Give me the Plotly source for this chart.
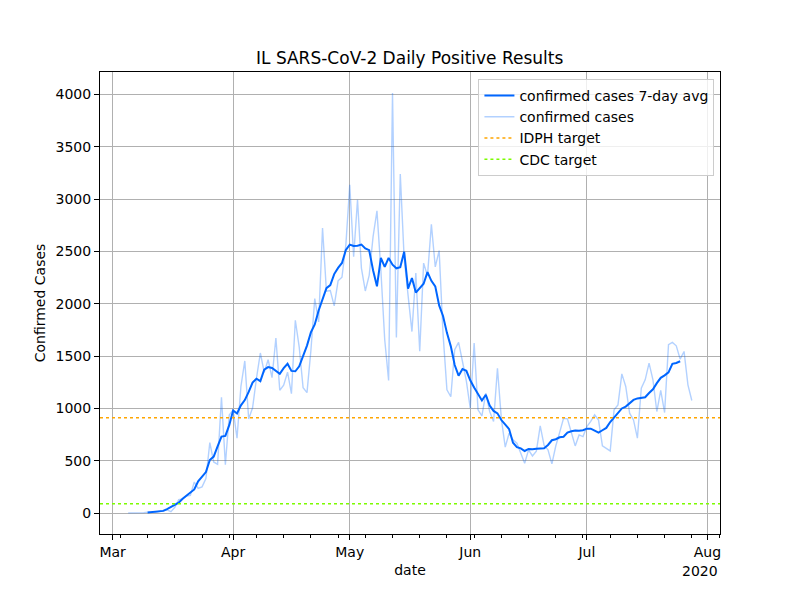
"""IL SARS-CoV-2 daily positive results with a centred 7-day average."""

import pandas as pd
import plotly.graph_objects as go

FIRST_DAY = "2020-03-05"
AVG_FIRST_DAY = "2020-03-10"

# daily confirmed cases, one list per month (March starts on the 5th)
MARCH_CASES = [1, 0, 1, 1, 4, 8, 6, 7, 14, 18, 29, 12, 55, 128, 134, 163, 168,
               296, 236, 250, 330, 673, 488, 465, 1105, 461, 937]
APRIL_CASES = [986, 715, 1209, 1453, 899, 1006, 1287, 1529, 1344, 1465,
               1293, 1672, 1173, 1222, 1346, 1140, 1842, 1585, 1197, 1151,
               1551, 2049, 1826, 2724, 2119, 2126, 1980, 2219, 2253, 2563]
MAY_CASES = [3137, 2450, 2994, 2341, 2122, 2270, 2641, 2887, 2325, 1656,
             1266, 4014, 1677, 3239, 2432, 2088, 1734, 2294, 1545, 2388,
             2268, 2758, 2352, 2508, 1713, 1178, 1111, 1560, 1630, 1448,
             1260]
JUNE_CASES = [1002, 1624, 986, 928, 1145, 970, 874, 1384, 900, 630,
              762, 699, 667, 570, 475, 603, 545, 590, 833, 645,
              603, 469, 640, 770, 906, 900, 778, 641, 746, 730]
JULY_CASES = [825, 875, 938, 888, 641, 615, 593, 986, 1033, 1330,
              1209, 954, 890, 715, 1193, 1273, 1432, 1273, 970, 1171,
              960, 1608, 1630, 1598, 1471, 1544, 1225, 1075]

IDPH_TARGET = 910
CDC_TARGET = 89

MONTH_TICKS = ["2020-03-01", "2020-04-01", "2020-05-01", "2020-06-01",
               "2020-07-01", "2020-08-01"]
MONTH_LABELS = ["Mar", "Apr", "May", "Jun", "Jul", "Aug"]
YEAR_LABEL = "2020"

BLUE = "#0066ff"
FONT = "DejaVu Sans"

daily = MARCH_CASES + APRIL_CASES + MAY_CASES + JUNE_CASES + JULY_CASES
cases = pd.Series(daily, index=pd.date_range(FIRST_DAY, periods=len(daily), freq="D"))
avg = cases.rolling(7, center=True).mean()
avg = avg[avg.index >= AVG_FIRST_DAY].dropna()

# matplotlib-like 5% autoscale margins
span = cases.index[-1] - cases.index[0]
x_lo = cases.index[0] - span * 0.05
x_hi = cases.index[-1] + span * 0.05
y_span = cases.max() - cases.min()
y_lo = cases.min() - y_span * 0.05
y_hi = cases.max() + y_span * 0.05

fig = go.Figure()
fig.add_trace(go.Scatter(x=avg.index, y=avg.values, mode="lines",
                         name="confirmed cases 7-day avg",
                         line=dict(color=BLUE, width=2)))
fig.add_trace(go.Scatter(x=cases.index, y=cases.values, mode="lines",
                         name="confirmed cases",
                         line=dict(color="rgba(0,102,255,0.3)", width=1.4)))
fig.add_trace(go.Scatter(x=[x_lo, x_hi], y=[IDPH_TARGET, IDPH_TARGET], mode="lines",
                         name="IDPH target",
                         line=dict(color="#ffa500", width=1.5, dash="dot")))
fig.add_trace(go.Scatter(x=[x_lo, x_hi], y=[CDC_TARGET, CDC_TARGET], mode="lines",
                         name="CDC target",
                         line=dict(color="#7cfc00", width=1.5, dash="dot")))

axis_style = dict(showline=True, linecolor="black", linewidth=1, mirror=True,
                  ticks="outside", ticklen=5, tickcolor="black",
                  showgrid=True, gridcolor="#b0b0b0", gridwidth=1,
                  zeroline=False, tickfont=dict(size=14, color="black"))

fig.update_xaxes(**axis_style, type="date", range=[x_lo, x_hi],
                 tickvals=MONTH_TICKS, ticktext=MONTH_LABELS,
                 minor=dict(tick0="2020-03-03", dtick=7 * 86400000,
                            ticks="outside", ticklen=3, tickcolor="black",
                            showgrid=False),
                 title=dict(text="date", font=dict(size=14), standoff=6))
fig.update_yaxes(**axis_style, range=[y_lo, y_hi], tickvals=list(range(0, 4001, 500)),
                 title=dict(text="Confirmed Cases", font=dict(size=14), standoff=6))

fig.add_annotation(text="IL SARS-CoV-2 Daily Positive Results", xref="paper", yref="paper",
                   x=0.5, y=1, yanchor="bottom", yshift=2, showarrow=False,
                   font=dict(size=17, color="black"))
fig.add_annotation(text=YEAR_LABEL, xref="paper", yref="paper", x=1, y=0,
                   xanchor="right", yanchor="top", yshift=-27, showarrow=False,
                   font=dict(size=14, color="black"))

# the page puts the figure 8px in from the top-left corner
fig.update_layout(
    width=800, height=600,
    margin=dict(l=92, r=88, t=64, b=74),
    paper_bgcolor="white", plot_bgcolor="white",
    font=dict(family=FONT, color="black"),
    showlegend=True,
    legend=dict(x=0.991, y=0.985, xanchor="right", yanchor="top",
                bgcolor="rgba(255,255,255,0.8)", bordercolor="#cccccc", borderwidth=1,
                font=dict(size=14), tracegroupgap=0),
)

fig.write_html("out.html")
